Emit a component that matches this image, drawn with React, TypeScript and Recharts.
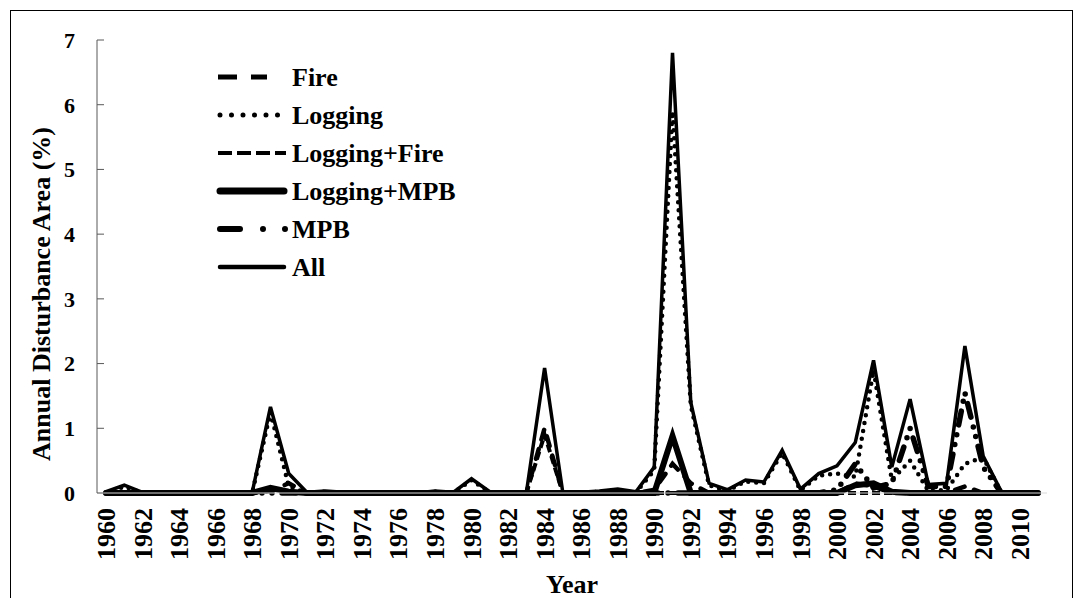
import React from 'react';
import { LineChart, Line, XAxis, YAxis, Legend } from 'recharts';

const years = [
  '1960', '1961', '1962', '1963', '1964', '1965', '1966', '1967', '1968', '1969',
  '1970', '1971', '1972', '1973', '1974', '1975', '1976', '1977', '1978', '1979',
  '1980', '1981', '1982', '1983', '1984', '1985', '1986', '1987', '1988', '1989',
  '1990', '1991', '1992', '1993', '1994', '1995', '1996', '1997', '1998', '1999',
  '2000', '2001', '2002', '2003', '2004', '2005', '2006', '2007', '2008', '2009',
  '2010', '2011',
];

const fire = [
  0, 0, 0, 0, 0, 0, 0, 0, 0, 0.03,
  0.15, 0, 0, 0, 0, 0, 0, 0, 0, 0,
  0, 0, 0, 0, 1.0, 0, 0, 0, 0, 0,
  0.05, 0.45, 0.15, 0, 0, 0, 0, 0, 0, 0,
  0, 0.15, 0.1, 0, 0, 0, 0, 0.1, 0, 0,
  0, 0,
];

const logging = [
  0, 0.1, 0, 0, 0, 0, 0, 0, 0, 1.25,
  0.1, 0, 0.02, 0, 0, 0, 0, 0, 0.02, 0,
  0.2, 0.01, 0, 0, 0, 0, 0, 0.02, 0.04, 0.01,
  0.35, 5.9, 1.35, 0.12, 0.03, 0.18, 0.15, 0.62, 0.04, 0.27,
  0.3, 0.25, 1.9, 0.2, 0.5, 0.03, 0.05, 0.45, 0.55, 0,
  0, 0,
];

const loggingFire = [
  0, 0, 0, 0, 0, 0, 0, 0, 0, 0.05,
  0.03, 0, 0, 0, 0, 0, 0, 0, 0, 0,
  0, 0, 0, 0, 0.9, 0, 0, 0, 0, 0,
  0, 0, 0, 0, 0, 0, 0, 0, 0, 0,
  0, 0, 0, 0, 0, 0, 0, 0, 0, 0,
  0, 0,
];

const loggingMpb = [
  0, 0, 0, 0, 0, 0, 0, 0, 0, 0.08,
  0.02, 0, 0, 0, 0, 0, 0, 0, 0, 0,
  0, 0, 0, 0, 0, 0, 0, 0, 0, 0,
  0, 0.88, 0, 0, 0, 0, 0, 0, 0, 0,
  0, 0.12, 0.15, 0.02, 0, 0, 0, 0, 0, 0,
  0, 0,
];

const mpb = [
  0, 0, 0, 0, 0, 0, 0, 0, 0, 0,
  0, 0, 0, 0, 0, 0, 0, 0, 0, 0,
  0, 0, 0, 0, 0, 0, 0, 0, 0, 0,
  0, 0, 0, 0, 0, 0, 0, 0, 0, 0,
  0.05, 0.45, 0.08, 0.15, 1.0, 0.1, 0.1, 1.55, 0.4, 0,
  0, 0,
];

const all = [
  0.02, 0.12, 0.01, 0, 0, 0, 0, 0, 0.01, 1.33,
  0.3, 0.01, 0.03, 0.01, 0, 0, 0, 0, 0.03, 0.01,
  0.22, 0.02, 0, 0, 1.93, 0, 0.01, 0.03, 0.06, 0.02,
  0.4, 6.8, 1.4, 0.15, 0.05, 0.2, 0.17, 0.66, 0.06, 0.3,
  0.42, 0.78, 2.05, 0.4, 1.45, 0.13, 0.15, 2.27, 0.57, 0.02,
  0, 0,
];

const yTicks = [0, 1, 2, 3, 4, 5, 6, 7];

const data = years.map((year, i) => ({
  year,
  fire: fire[i],
  logging: logging[i],
  loggingFire: loggingFire[i],
  loggingMpb: loggingMpb[i],
  mpb: mpb[i],
  all: all[i],
}));

const FONT = "'Times New Roman', Times, 'Liberation Serif', 'DejaVu Serif', serif";

// line look in the plot
const series = [
  { key: 'fire', name: 'Fire', width: 4.5, dash: '10 10', cap: 'round' },
  { key: 'logging', name: 'Logging', width: 4.5, dash: '0 8', cap: 'round' },
  { key: 'loggingFire', name: 'Logging+Fire', width: 4, dash: '8 4', cap: 'butt' },
  { key: 'loggingMpb', name: 'Logging+MPB', width: 6, dash: undefined, cap: 'round' },
  { key: 'mpb', name: 'MPB', width: 5.5, dash: '14 10 0 10 0 10', cap: 'round' },
  { key: 'all', name: 'All', width: 3.5, dash: undefined, cap: 'round' },
];

// line look in the legend (drawn a bit heavier, like the original)
const legendLook: Record<string, { width: number; dash?: string; cap: string; x1: number; x2: number }> = {
  fire: { width: 5, dash: '19 14 16 100', cap: 'butt', x1: 8, x2: 75 },
  logging: { width: 5, dash: '0 11.5', cap: 'round', x1: 10, x2: 72 },
  loggingFire: { width: 4, dash: '14 5', cap: 'butt', x1: 8, x2: 76 },
  loggingMpb: { width: 7, cap: 'round', x1: 10, x2: 74 },
  mpb: { width: 6, dash: '20 23 0 22 0 100', cap: 'round', x1: 10, x2: 76 },
  all: { width: 4.5, cap: 'round', x1: 10, x2: 74 },
};

const renderLegend = (props: any) => {
  const payload = props.payload || [];
  const ordered = series
    .map((s) => payload.find((p: any) => p.dataKey === s.key))
    .filter(Boolean);
  return (
    <svg width={320} height={230} style={{ overflow: 'visible' }}>
      {ordered.map((entry: any, i: number) => {
        const look = legendLook[entry.dataKey] || { width: 3, cap: 'butt', x1: 8, x2: 75 };
        const cy = 19 + i * 38;
        return (
          <g key={entry.dataKey}>
            <line
              x1={look.x1}
              x2={look.x2}
              y1={cy}
              y2={cy}
              stroke="#000"
              strokeWidth={look.width}
              strokeDasharray={look.dash}
              strokeLinecap={look.cap as any}
            />
            <text x={82} y={cy} dy="0.35em" fontFamily={FONT} fontWeight="bold" fontSize={26} fill="#000">
              {entry.value}
            </text>
          </g>
        );
      })}
    </svg>
  );
};

const YearTick = (props: any) => {
  const { x, y, payload } = props;
  return (
    <text
      x={x}
      y={y}
      transform={`rotate(-90, ${x}, ${y})`}
      textAnchor="end"
      dy="0.35em"
      fontFamily={FONT}
      fontWeight="bold"
      fontSize={26}
      fill="#000"
    >
      {payload.value}
    </text>
  );
};

export default function App() {
  return (
    <div
      style={{
        position: 'absolute',
        left: 0,
        top: 0,
        width: 1074,
        height: 598,
        overflow: 'hidden',
        background: '#fff',
        fontFamily: FONT,
      }}
    >
      <div
        style={{
          position: 'absolute',
          left: 10,
          top: 10,
          width: 1061,
          height: 640,
          border: '1px solid #000',
        }}
      />
      <div style={{ position: 'absolute', left: 0, top: 0 }}>
        <LineChart width={1074} height={598} data={data} margin={{ top: 40, right: 27, left: 37, bottom: 15 }}>
          <XAxis
            dataKey="year"
            interval={1}
            height={90}
            padding={{ left: 9, right: 9 }}
            axisLine={{ stroke: '#d9d9d9', strokeWidth: 1 }}
            tickLine={false}
            tickMargin={9}
            tick={<YearTick />}
          />
          <YAxis
            width={60}
            domain={[0, 7]}
            ticks={yTicks}
            interval={0}
            axisLine={{ stroke: '#595959', strokeWidth: 1 }}
            tickLine={{ stroke: '#595959', strokeWidth: 1 }}
            tickSize={-7}
            tickMargin={29}
            tick={{ fontSize: 22, fontWeight: 'bold', fill: '#000', fontFamily: FONT }}
          />
          <Legend
            layout="vertical"
            align="center"
            verticalAlign="middle"
            content={renderLegend}
            wrapperStyle={{ left: 210, top: 58, width: 320, height: 230 }}
          />
          {series.map((s) => (
            <Line
              key={s.key}
              type="linear"
              dataKey={s.key}
              name={s.name}
              stroke="#000"
              strokeWidth={s.width}
              strokeDasharray={s.dash}
              strokeLinecap={s.cap as any}
              dot={false}
              activeDot={false}
              isAnimationActive={false}
            />
          ))}
        </LineChart>
      </div>
      <div
        style={{
          position: 'absolute',
          left: 42,
          top: 294,
          transform: 'translate(-50%, -50%) rotate(-90deg)',
          whiteSpace: 'nowrap',
          fontSize: 26,
          fontWeight: 'bold',
          color: '#000',
        }}
      >
        Annual Disturbance Area (%)
      </div>
      <div
        style={{
          position: 'absolute',
          left: 572,
          top: 585,
          transform: 'translate(-50%, -50%)',
          whiteSpace: 'nowrap',
          fontSize: 26,
          fontWeight: 'bold',
          color: '#000',
        }}
      >
        Year
      </div>
    </div>
  );
}
